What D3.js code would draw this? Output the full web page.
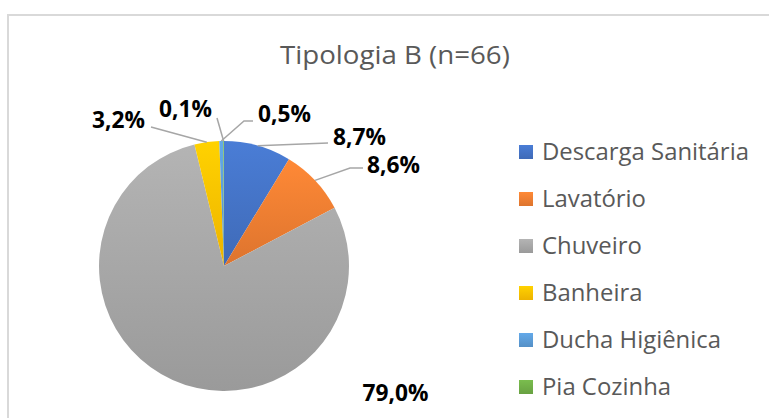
<!DOCTYPE html>
<html><head><meta charset="utf-8">
<script src="https://cdn.jsdelivr.net/npm/d3@7"></script>
<style>body{margin:0;background:#fff}svg{display:block}</style>
</head><body>
<svg id="c" width="769" height="418"></svg>
<script>
const title = "Tipologia B (n=66)";
const categories = ["Descarga Sanitária","Lavatório","Chuveiro","Banheira","Ducha Higiênica","Pia Cozinha"];
const values = [8.7, 8.6, 79.0, 3.2, 0.5, 0.1];
const labels = ["8,7%","8,6%","79,0%","3,2%","0,5%","0,1%"];
const colors = ["#4472C4","#ED7D31","#A5A5A5","#FFC000","#5B9BD5","#70AD47"];

const svg = d3.select("#c");
const font = "'Open Sans', 'Noto Sans', sans-serif";
svg.append("rect").attr("x",8).attr("y",15).attr("width",800).attr("height",500)
  .attr("fill","#fff").attr("stroke","#d9d9d9").attr("stroke-width",2);

// helper: draw text condensed horizontally to a target width (Calibri-like)
function ctext(parent, x, y, str, size, weight, fill, targetW, anchor){
  const g = parent.append("g");
  const t = g.append("text").attr("font-family",font).attr("font-size",size)
    .attr("font-weight",weight).attr("fill",fill).text(str);
  const w = t.node().getComputedTextLength();
  const s = targetW / w;
  let x0 = x;
  if(anchor==="middle") x0 = x - targetW/2;
  if(anchor==="end") x0 = x - targetW;
  g.attr("transform",`translate(${x0},${y}) scale(${s},1)`);
  return s;
}

ctext(svg, 395, 64, title, 25, 400, "#595959", 230, "middle");

const defs = svg.append("defs");
colors.forEach((c,i)=>{
  const g = defs.append("linearGradient").attr("id","g"+i).attr("x1",0).attr("y1",0).attr("x2",0).attr("y2",1);
  g.append("stop").attr("offset","0%").attr("stop-color",d3.color(c).brighter(0.25));
  g.append("stop").attr("offset","100%").attr("stop-color",d3.color(c).darker(0.2));
});

const cx = 224, cy = 266, r = 125;
const pie = d3.pie().sort(null).value(d=>d)(values);
const arc = d3.arc().innerRadius(0).outerRadius(r);
const edge = d3.arc().innerRadius(r).outerRadius(r);
const gp = svg.append("g").attr("transform",`translate(${cx},${cy})`);
gp.selectAll("path").data(pie).join("path").attr("d",arc)
  .attr("fill",(d,i)=>`url(#g${i})`);

// label layout and leader lines
const labPos = [
  {x:333,y:145,anchor:"start",elbow:[328,143]},
  {x:367,y:173,anchor:"start",elbow:[363,168],h:[350,168]},
  {x:395.5,y:401,anchor:"middle"},
  {x:145,y:128,anchor:"end",elbow:[151,127]},
  {x:258,y:122,anchor:"start",elbow:[253,121],h:[244,121]},
  {x:212,y:117,anchor:"end",elbow:[217,118]}
];
const lg = svg.append("g");
const probe = lg.append("text").attr("font-family",font).attr("font-size",24).attr("font-weight",700).text("3,2%");
const lblScale = 53 / probe.node().getComputedTextLength();
probe.remove();
pie.forEach((d,i)=>{
  const p = labPos[i];
  const e = edge.centroid(d);
  const ex = cx+e[0], ey = cy+e[1];
  if(p.elbow){
    const pts = [p.elbow];
    if(p.h) pts.push(p.h);
    pts.push([ex,ey]);
    lg.append("path").attr("d",d3.line()(pts)).attr("fill","none").attr("stroke","#a6a6a6").attr("stroke-width",1.5);
  }
  const g = lg.append("g");
  const t = g.append("text").attr("font-family",font).attr("font-size",24).attr("font-weight",700).attr("fill","#000").text(labels[i]);
  const w = t.node().getComputedTextLength()*lblScale;
  let x0 = p.x;
  if(p.anchor==="middle") x0 = p.x - w/2;
  if(p.anchor==="end") x0 = p.x - w;
  g.attr("transform",`translate(${x0},${p.y}) scale(${lblScale},1)`);
});

const leg = svg.append("g");
const probe2 = leg.append("text").attr("font-family",font).attr("font-size",24).text(categories[0]);
const legScale = 207 / probe2.node().getComputedTextLength();
probe2.remove();
categories.forEach((c,i)=>{
  const y = 160 + i*47;
  leg.append("rect").attr("x",519).attr("y",y-15).attr("width",14).attr("height",14).attr("fill",`url(#g${i})`);
  leg.append("g").attr("transform",`translate(542,${y}) scale(${legScale},1)`)
    .append("text").attr("font-family",font).attr("font-size",24).attr("fill","#595959").text(c);
});
</script>
</body></html>
